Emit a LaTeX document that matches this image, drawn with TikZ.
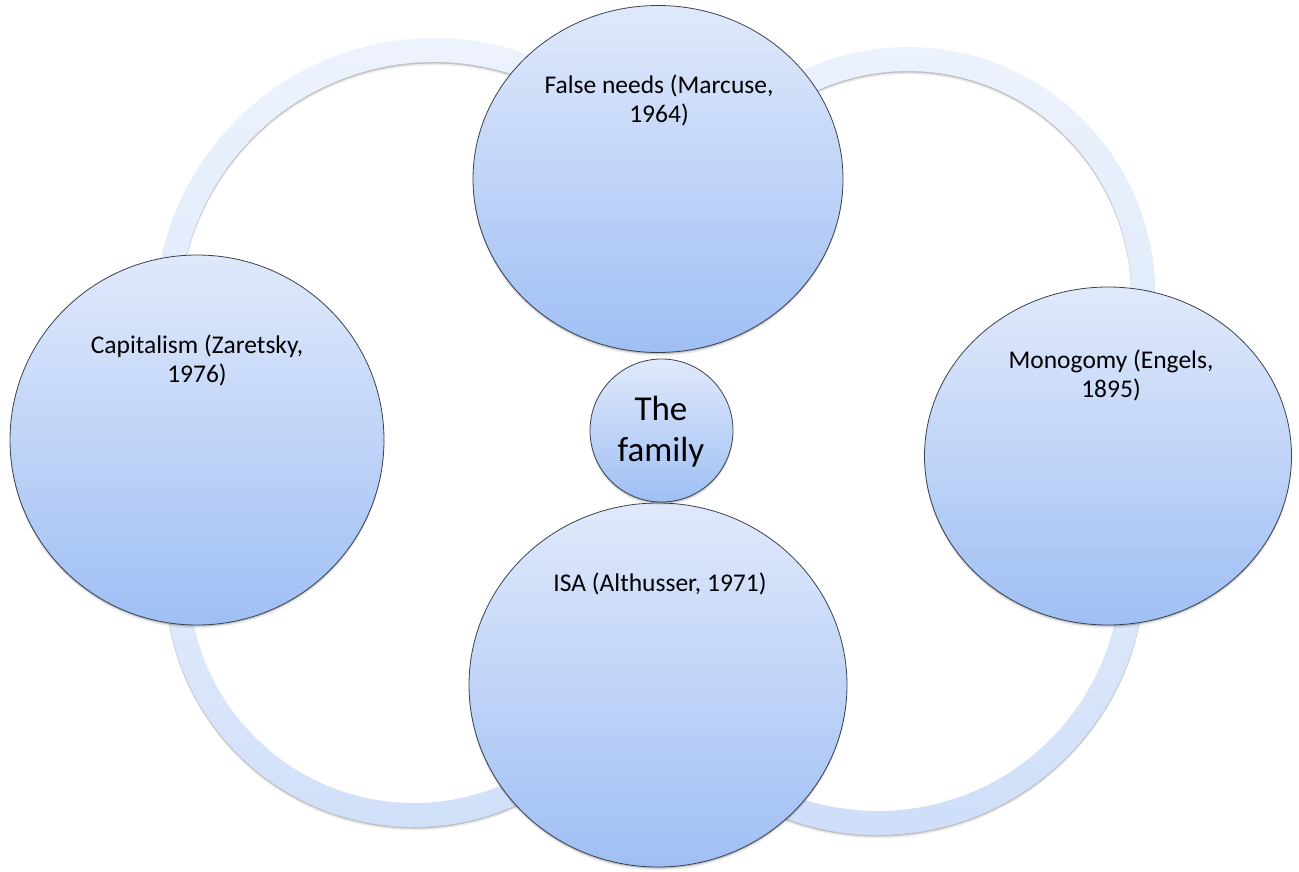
\documentclass[tikz,border=0pt]{standalone}
\usepackage{fontspec}
\setmainfont{Carlito}
\usetikzlibrary{shapes.geometric,shadows}

\definecolor{ringhi}{RGB}{238,243,253}
\definecolor{ringmid}{RGB}{224,234,251}
\definecolor{ringlo}{RGB}{206,222,249}
\definecolor{balltop}{RGB}{224,233,251}
\definecolor{ballbot}{RGB}{159,191,244}
\definecolor{rim}{RGB}{58,66,80}

\tikzset{
  softshadow/.style={
    drop shadow={shadow xshift=0pt, shadow yshift=-1.5pt, fill=black, opacity=0.18},
    drop shadow={shadow xshift=0pt, shadow yshift=-3.2pt, fill=black, opacity=0.08}},
  ball/.style={ellipse, draw=rim, line width=0.8pt, inner sep=0pt,
    top color=balltop, bottom color=ballbot, softshadow},
  band/.style={draw=none, softshadow},
  % anchor=base sits on the baseline of the last line
  caption/.style={font=\fontsize{25.5}{29}\selectfont, align=center,
    anchor=base, inner sep=0pt},
  bigcaption/.style={font=\fontsize{35}{41}\selectfont, align=center,
    anchor=base, inner sep=0pt},
}

% one segment of the surrounding ring:
% centre x, centre y, inner radius, outer radius, start angle, end angle,
% top colour, bottom colour
\newcommand\ringband[8]{%
  \path[band, top color=#7, bottom color=#8]
    ([shift={(#5:#4)}]#1,#2) arc[start angle=#5, end angle=#6, radius=#4]
    -- ([shift={(#6:#3)}]#1,#2) arc[start angle=#6, end angle=#5, radius=#3]
    -- cycle;}

\begin{document}
\begin{tikzpicture}[x=1pt,y=-1pt]
  \fill[white] (0,0) rectangle (1299,871);
  \useasboundingbox (0,0) rectangle (1299,871);

  % ring joining the outer circles
  \ringband{434}{317}{255}{279}{175}{305}{ringhi}{ringmid}
  \ringband{908}{294}{223}{247}{230}{375}{ringhi}{ringmid}
  \ringband{414}{578}{225}{249}{55}{180}{ringmid}{ringlo}
  \ringband{878}{568}{243}{267}{-5}{125}{ringmid}{ringlo}

  % outer circles
  \node[ball, minimum width=370pt, minimum height=347pt] (needs) at (658,179) {};
  \node[ball, minimum width=374pt, minimum height=370pt] (capital) at (197,440) {};
  \node[ball, minimum width=367pt, minimum height=338pt] (mono) at (1108,456) {};
  \node[ball, minimum width=378pt, minimum height=364pt] (isa) at (658,685) {};

  % centre circle
  \node[ball, minimum width=143pt, minimum height=143pt] (family) at (661.5,430.5) {};

  % labels
  \node[caption] (needs-t) at (659,122) {False needs (Marcuse,\\1964)};
  \node[caption] (capital-t) at (197,382) {Capitalism (Zaretsky,\\1976)};
  \node[caption] (mono-t) at (1111,397) {Monogomy (Engels,\\1895)};
  \node[caption] (isa-t) at (660,591) {ISA (Althusser, 1971)};
  \node[bigcaption] (family-t) at (661,461) {The\\family};
\end{tikzpicture}
\end{document}
